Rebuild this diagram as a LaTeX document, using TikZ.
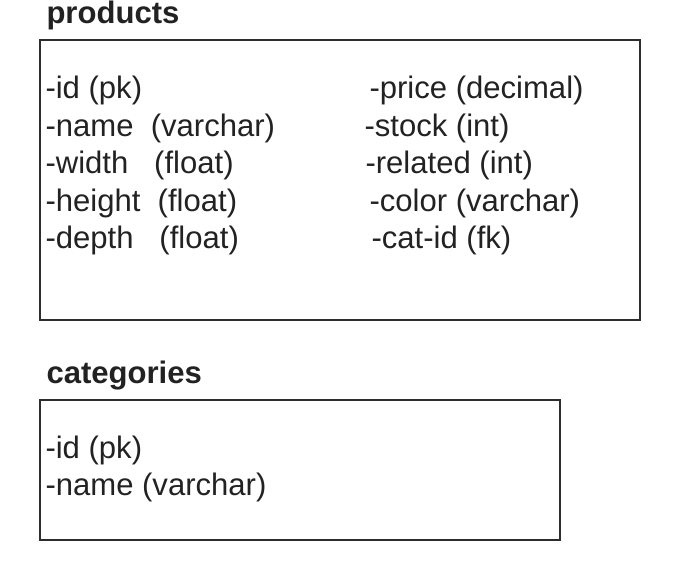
\documentclass[tikz,border=0pt]{standalone}
\usepackage{fontspec}
\setmainfont{Liberation Sans}
\definecolor{boxline}{RGB}{45,45,45}
\definecolor{inktext}{RGB}{34,34,34}
\tikzset{every picture/.style={line width=0.75pt}}
\tikzset{
  tablebox/.style={draw=boxline, line width=1.5pt},
  field/.style={anchor=base west, inner sep=0pt, text=inktext, font=\fontsize{23.3}{27}\selectfont},
  tabletitle/.style={field, font=\fontsize{23.3}{27}\selectfont\bfseries}
}

\begin{document}
\begin{tikzpicture}[x=0.75pt,y=0.75pt,yscale=-1,xscale=1]
\useasboundingbox (0,0) rectangle (680,580); %set diagram left start at 0, and has height of 580

%Shape: Rectangle [products]
\draw [tablebox] (40,40) -- (640,40) -- (640,320) -- (40,320) -- cycle ;
%Shape: Rectangle [categories]
\draw [tablebox] (40,400) -- (560,400) -- (560,540) -- (40,540) -- cycle ;

% Text Node
\draw (46,24) node [tabletitle] (prodtitle) {products};
% Text Node
\draw (45,99) node [field] (prodid) {-id (pk)};
% Text Node
\draw (45,136.5) node [field] (prodname) {-name~~(varchar)};
% Text Node
\draw (45,174) node [field] (prodwidth) {-width~~~(float)};
% Text Node
\draw (45,211.5) node [field] (prodheight) {-height~~(float)};
% Text Node
\draw (45,249) node [field] (proddepth) {-depth~~~(float)};
% Text Node
\draw (369,99) node [field] (prodprice) {-price (decimal)};
% Text Node
\draw (364,136.5) node [field] (prodstock) {-stock (int)};
% Text Node
\draw (365,174) node [field] (prodrelated) {-related (int)};
% Text Node
\draw (369,211.5) node [field] (prodcolor) {-color (varchar)};
% Text Node
\draw (371,249) node [field] (prodcatid) {-cat-id (fk)};

% Text Node
\draw (46,383) node [tabletitle] (cattitle) {categories};
% Text Node
\draw (45,458) node [field] (catid) {-id (pk)};
% Text Node
\draw (45,495) node [field] (catname) {-name (varchar)};

\end{tikzpicture}
\end{document}
